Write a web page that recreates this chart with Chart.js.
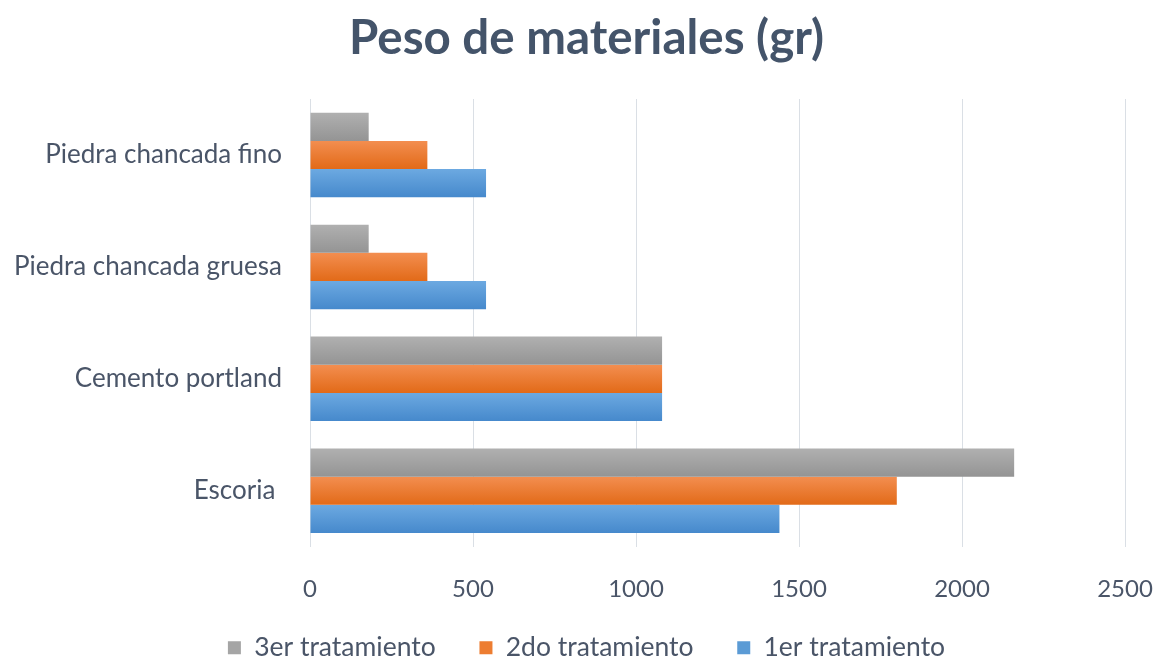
<!DOCTYPE html>
<html lang="es">
<head>
<meta charset="UTF-8">
<script src="https://cdn.jsdelivr.net/npm/chart.js@4.4.1/dist/chart.umd.min.js"></script>
<title>Peso de materiales</title>
<style>
  html, body { margin: 0; padding: 0; background: #fff; }
  #wrap { width: 1165px; height: 663px; }
</style>
</head>
<body>
<div id="wrap"><canvas id="myChart" width="1165" height="663"></canvas></div>
<script>
const materiales = ['Piedra chancada fino', 'Piedra chancada gruesa', 'Cemento portland', 'Escoria '];
const tratamiento3 = [180, 180, 1080, 2160];
const tratamiento2 = [360, 360, 1080, 1800];
const tratamiento1 = [540, 540, 1080, 1440];
const seriesNames = ['3er tratamiento', '2do tratamiento', '1er tratamiento'];
const colores = ['#A5A5A5', '#ED7D31', '#5B9BD5'];
// top / bottom shades for the Excel-like gradient
const shades = [['#B0B0B0', '#949494'], ['#F38E50', '#E26A18'], ['#6CA9E1', '#4689CC']];

const textColor = '#4A5568';
const fontFam = 'Lato, "Open Sans", sans-serif';

// paint each bar with a vertical gradient, using the bar geometry from Chart.js
const barGradient = {
  id: 'barGradient',
  beforeDatasetsDraw(chart) {
    const ctx = chart.ctx;
    chart.data.datasets.forEach((ds, i) => {
      chart.getDatasetMeta(i).data.forEach(bar => {
        const top = bar.y - bar.height / 2;
        const g = ctx.createLinearGradient(0, top, 0, top + bar.height);
        g.addColorStop(0, shades[i][0]);
        g.addColorStop(1, shades[i][1]);
        bar.options = Object.assign({}, bar.options, { backgroundColor: g });
      });
    });
  }
};

const ctx = document.getElementById('myChart').getContext('2d');
new Chart(ctx, {
  type: 'bar',
  data: {
    labels: materiales,
    datasets: [
      { label: seriesNames[0], data: tratamiento3, backgroundColor: colores[0] },
      { label: seriesNames[1], data: tratamiento2, backgroundColor: colores[1] },
      { label: seriesNames[2], data: tratamiento1, backgroundColor: colores[2] }
    ]
  },
  options: {
    indexAxis: 'y',
    responsive: false,
    animation: false,
    categoryPercentage: 0.755,
    barPercentage: 1,
    layout: { padding: { left: 8, right: 0, top: 6, bottom: -8 } },
    plugins: {
      title: {
        display: true,
        text: 'Peso de materiales (gr)',
        color: '#44546A',
        font: { family: fontFam, size: 47.5, weight: 'bold' },
        padding: { top: 4, bottom: 32 }
      },
      legend: {
        position: 'bottom',
        labels: {
          color: textColor,
          font: { family: fontFam, size: 26.5 },
          boxWidth: 13,
          boxHeight: 13,
          padding: 3,
          generateLabels(chart) {
            // extra trailing spaces keep the wide gaps between legend entries
            return chart.data.datasets.map((ds, i) => ({
              text: i < 2 ? ds.label + '\u00a0'.repeat(6) : ds.label,
              fillStyle: colores[i],
              strokeStyle: colores[i],
              lineWidth: 0,
              datasetIndex: i,
              fontColor: textColor
            }));
          }
        }
      },
      tooltip: { enabled: false }
    },
    scales: {
      x: {
        min: 0,
        max: 2500,
        ticks: {
          stepSize: 500,
          color: textColor,
          font: { family: fontFam, size: 24 },
          padding: 28,
          callback: v => String(v)
        },
        grid: { color: '#DADFE5', drawTicks: false },
        border: { display: false },
        afterFit(scale) { scale.paddingRight = 40; }
      },
      y: {
        ticks: { color: textColor, font: { family: fontFam, size: 26 }, padding: 28 },
        grid: { display: false, drawTicks: false },
        border: { display: false },
        afterFit(scale) { scale.width = 302; }
      }
    }
  },
  plugins: [barGradient]
});
</script>
</body>
</html>
